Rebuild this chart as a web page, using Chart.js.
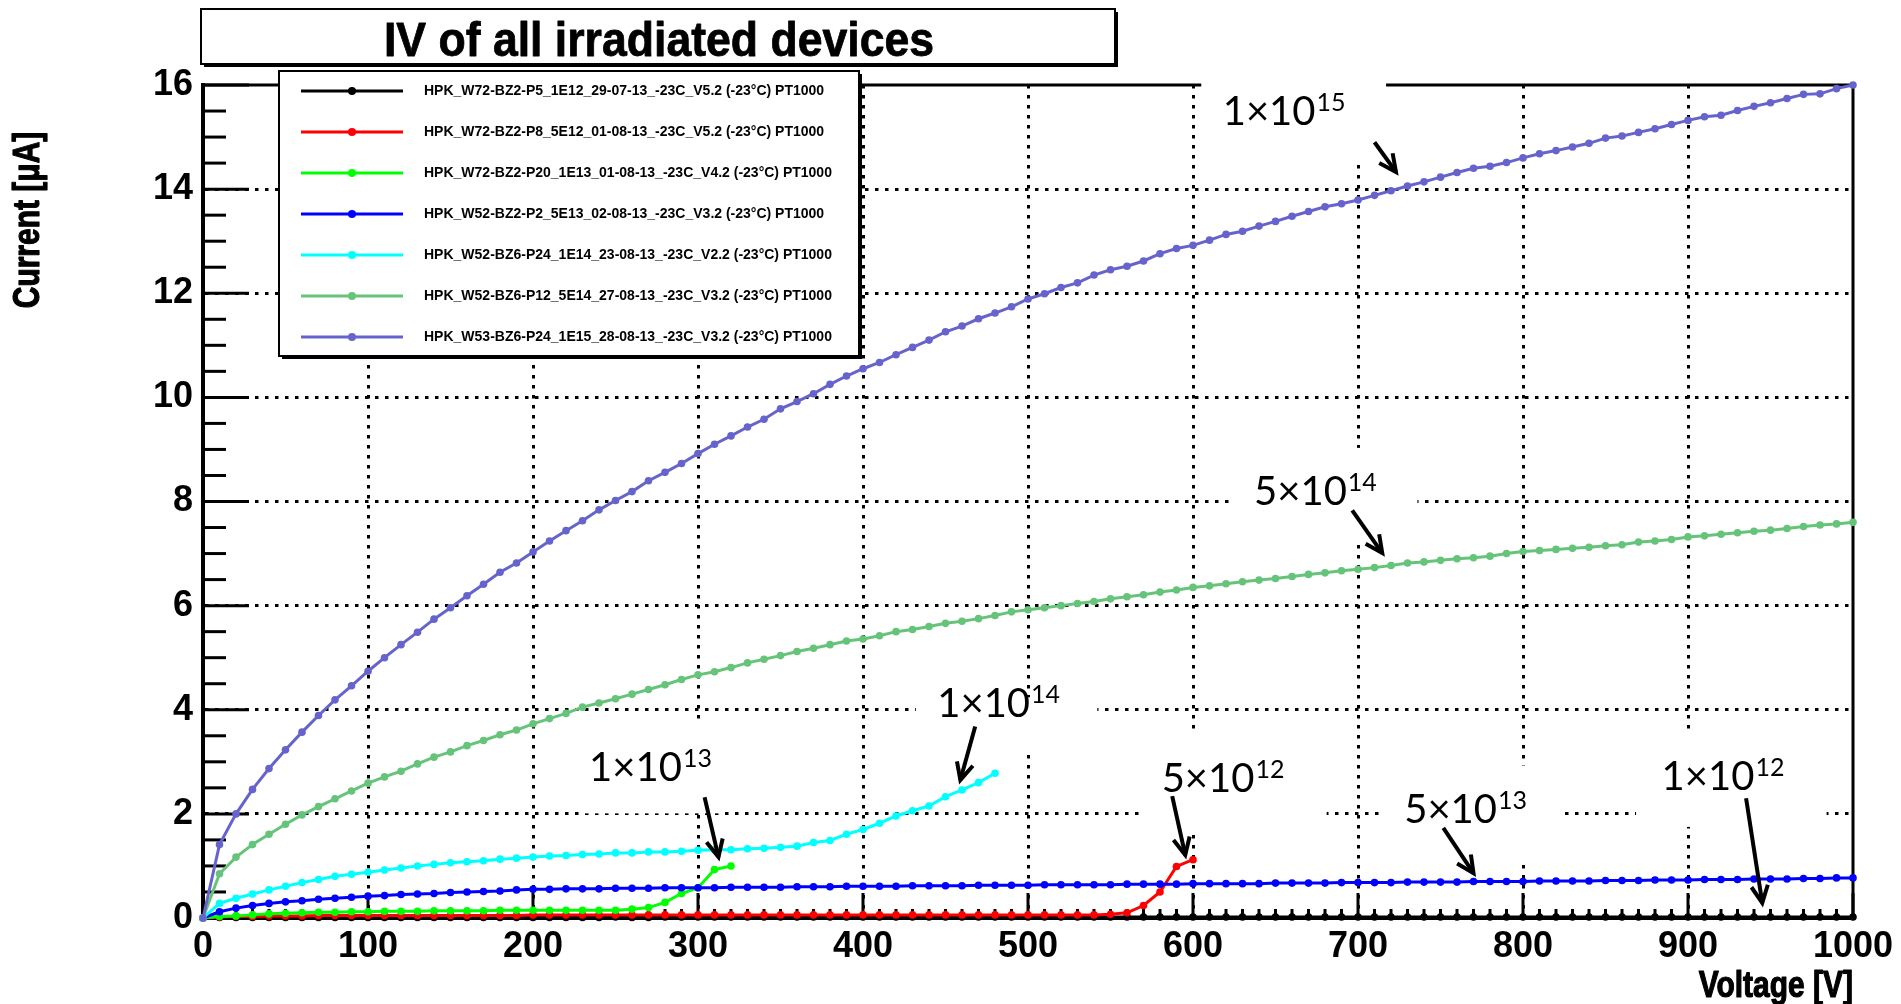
<!DOCTYPE html>
<html>
<head>
<meta charset="utf-8">
<title>IV of all irradiated devices</title>
<script src="https://cdn.jsdelivr.net/npm/chart.js@4.4.1/dist/chart.umd.min.js"></script>
<style>
  html, body { margin: 0; padding: 0; background: #fff; overflow: hidden; }
  canvas { display: block; }
</style>
</head>
<body>
<canvas id="iv" width="1901" height="1004"></canvas>
<script>
// bias voltage steps [V]
const voltages = [
  0, 10, 20, 30, 40, 50, 60, 70, 80, 90,
  100, 110, 120, 130, 140, 150, 160, 170, 180, 190,
  200, 210, 220, 230, 240, 250, 260, 270, 280, 290,
  300, 310, 320, 330, 340, 350, 360, 370, 380, 390,
  400, 410, 420, 430, 440, 450, 460, 470, 480, 490,
  500, 510, 520, 530, 540, 550, 560, 570, 580, 590,
  600, 610, 620, 630, 640, 650, 660, 670, 680, 690,
  700, 710, 720, 730, 740, 750, 760, 770, 780, 790,
  800, 810, 820, 830, 840, 850, 860, 870, 880, 890,
  900, 910, 920, 930, 940, 950, 960, 970, 980, 990,
  1000
];

// leakage current [uA], one array per device
const current1e12 = [
  0, 0.01, 0.01, 0.01, 0.01, 0.01, 0.01, 0.01, 0.01, 0.01,
  0.01, 0.01, 0.01, 0.01, 0.01, 0.01, 0.01, 0.01, 0.01, 0.01,
  0.01, 0.01, 0.01, 0.01, 0.01, 0.02, 0.01, 0.01, 0.02, 0.02,
  0.02, 0.02, 0.02, 0.02, 0.02, 0.02, 0.02, 0.02, 0.02, 0.02,
  0.02, 0.02, 0.02, 0.02, 0.02, 0.02, 0.02, 0.02, 0.02, 0.02,
  0.02, 0.02, 0.02, 0.02, 0.02, 0.02, 0.02, 0.02, 0.02, 0.02,
  0.02, 0.02, 0.02, 0.02, 0.02, 0.02, 0.02, 0.02, 0.02, 0.02,
  0.02, 0.02, 0.02, 0.02, 0.02, 0.02, 0.02, 0.02, 0.02, 0.02,
  0.02, 0.02, 0.02, 0.02, 0.02, 0.02, 0.02, 0.02, 0.02, 0.02,
  0.02, 0.02, 0.02, 0.02, 0.02, 0.02, 0.02, 0.02, 0.02, 0.02,
  0.02
];
const current5e12 = [
  0, 0.02, 0.03, 0.03, 0.04, 0.04, 0.04, 0.05, 0.05, 0.05,
  0.05, 0.05, 0.05, 0.05, 0.05, 0.05, 0.05, 0.05, 0.05, 0.05,
  0.06, 0.06, 0.06, 0.06, 0.06, 0.06, 0.06, 0.06, 0.06, 0.06,
  0.06, 0.06, 0.06, 0.06, 0.06, 0.06, 0.06, 0.06, 0.06, 0.06,
  0.06, 0.06, 0.06, 0.06, 0.06, 0.06, 0.06, 0.06, 0.06, 0.06,
  0.06, 0.06, 0.06, 0.06, 0.06, 0.07, 0.10, 0.24, 0.50, 0.99,
  1.12
];
const current1e13 = [
  0, 0.03, 0.04, 0.06, 0.08, 0.09, 0.10, 0.11, 0.11, 0.12,
  0.12, 0.13, 0.13, 0.13, 0.14, 0.14, 0.14, 0.14, 0.15, 0.15,
  0.15, 0.15, 0.15, 0.15, 0.15, 0.15, 0.17, 0.20, 0.30, 0.47,
  0.58, 0.93, 1.00
];
const current5e13 = [
  0, 0.12, 0.19, 0.24, 0.28, 0.31, 0.33, 0.36, 0.38, 0.40,
  0.42, 0.43, 0.45, 0.46, 0.47, 0.49, 0.50, 0.51, 0.52, 0.54,
  0.55, 0.55, 0.56, 0.56, 0.56, 0.57, 0.57, 0.57, 0.58, 0.58,
  0.58, 0.58, 0.59, 0.59, 0.59, 0.59, 0.60, 0.60, 0.60, 0.61,
  0.61, 0.61, 0.61, 0.62, 0.62, 0.62, 0.62, 0.63, 0.63, 0.63,
  0.63, 0.64, 0.64, 0.64, 0.64, 0.64, 0.65, 0.65, 0.65, 0.65,
  0.66, 0.66, 0.66, 0.66, 0.66, 0.67, 0.67, 0.67, 0.67, 0.68,
  0.68, 0.68, 0.68, 0.69, 0.69, 0.69, 0.69, 0.70, 0.70, 0.70,
  0.70, 0.71, 0.71, 0.71, 0.71, 0.72, 0.72, 0.72, 0.73, 0.73,
  0.73, 0.74, 0.74, 0.74, 0.75, 0.75, 0.75, 0.76, 0.76, 0.77,
  0.77
];
const current1e14 = [
  0, 0.28, 0.38, 0.46, 0.54, 0.61, 0.68, 0.74, 0.80, 0.84,
  0.88, 0.92, 0.96, 1.00, 1.03, 1.06, 1.08, 1.10, 1.13, 1.15,
  1.17, 1.19, 1.20, 1.22, 1.23, 1.25, 1.25, 1.27, 1.27, 1.28,
  1.30, 1.31, 1.31, 1.33, 1.34, 1.36, 1.38, 1.45, 1.49, 1.61,
  1.70, 1.82, 1.96, 2.06, 2.15, 2.33, 2.46, 2.60, 2.78
];
const current5e14 = [
  0, 0.85, 1.17, 1.41, 1.61, 1.80, 1.98, 2.14, 2.29, 2.44,
  2.59, 2.71, 2.82, 2.96, 3.09, 3.19, 3.31, 3.41, 3.52, 3.61,
  3.73, 3.83, 3.93, 4.05, 4.13, 4.21, 4.30, 4.39, 4.48, 4.58,
  4.67, 4.73, 4.81, 4.90, 4.97, 5.04, 5.12, 5.18, 5.25, 5.32,
  5.36, 5.42, 5.50, 5.54, 5.60, 5.66, 5.70, 5.75, 5.81, 5.88,
  5.92, 5.96, 6.00, 6.04, 6.08, 6.13, 6.17, 6.21, 6.26, 6.30,
  6.35, 6.38, 6.42, 6.46, 6.49, 6.52, 6.56, 6.60, 6.63, 6.67,
  6.70, 6.73, 6.77, 6.82, 6.84, 6.87, 6.90, 6.92, 6.95, 7.00,
  7.04, 7.06, 7.08, 7.10, 7.12, 7.15, 7.17, 7.22, 7.24, 7.27,
  7.32, 7.34, 7.37, 7.40, 7.43, 7.45, 7.48, 7.52, 7.55, 7.57,
  7.60
];
const current1e15 = [
  0, 1.41, 2.00, 2.47, 2.87, 3.23, 3.57, 3.89, 4.19, 4.46,
  4.74, 5.00, 5.25, 5.49, 5.74, 5.96, 6.19, 6.41, 6.64, 6.82,
  7.03, 7.24, 7.44, 7.63, 7.84, 8.02, 8.19, 8.40, 8.56, 8.73,
  8.92, 9.10, 9.26, 9.43, 9.58, 9.78, 9.92, 10.07, 10.25, 10.41,
  10.55, 10.67, 10.82, 10.96, 11.10, 11.26, 11.37, 11.51, 11.62, 11.74,
  11.89, 11.99, 12.11, 12.20, 12.35, 12.45, 12.52, 12.62, 12.76, 12.86,
  12.92, 13.02, 13.13, 13.19, 13.29, 13.38, 13.48, 13.57, 13.66, 13.72,
  13.79, 13.88, 13.97, 14.06, 14.14, 14.23, 14.32, 14.40, 14.44, 14.51,
  14.60, 14.68, 14.74, 14.81, 14.88, 14.98, 15.02, 15.09, 15.16, 15.24,
  15.32, 15.39, 15.42, 15.51, 15.59, 15.66, 15.74, 15.82, 15.83, 15.93,
  16.00
];

const deviceNames = [
  'HPK_W72-BZ2-P5_1E12_29-07-13_-23C_V5.2 (-23°C) PT1000',
  'HPK_W72-BZ2-P8_5E12_01-08-13_-23C_V5.2 (-23°C) PT1000',
  'HPK_W72-BZ2-P20_1E13_01-08-13_-23C_V4.2 (-23°C) PT1000',
  'HPK_W52-BZ2-P2_5E13_02-08-13_-23C_V3.2 (-23°C) PT1000',
  'HPK_W52-BZ6-P24_1E14_23-08-13_-23C_V2.2 (-23°C) PT1000',
  'HPK_W52-BZ6-P12_5E14_27-08-13_-23C_V3.2 (-23°C) PT1000',
  'HPK_W53-BZ6-P24_1E15_28-08-13_-23C_V3.2 (-23°C) PT1000'
];
const deviceColors = ['#000000', '#ff0000', '#00ff00', '#0000ff', '#00ffff', '#66c47a', '#6664cc'];
const deviceCurrents = [current1e12, current5e12, current1e13, current5e13, current1e14, current5e14, current1e15];

// fluence notes: text anchor, white box and arrow, all in axis units (V, uA)
const notes = [
  { base: '1×10', exp: '15', at: [618, 15.23], box: [605, 16.3, 717, 14.56], arrow: [710, 14.90, 723, 14.33] },
  { base: '5×10', exp: '14', at: [637, 7.93], box: [624, 9.03, 736, 7.26], arrow: [696.5, 7.83, 714.7, 7.01] },
  { base: '1×10', exp: '14', at: [445, 3.86], box: [432, 4.24, 542, 3.19], arrow: [468, 3.68, 459, 2.65] },
  { base: '1×10', exp: '13', at: [234, 2.63], box: [229, 3.74, 314, 2.01], arrow: [304, 2.32, 312.4, 1.17] },
  { base: '5×10', exp: '12', at: [581, 2.42], box: [569, 3.55, 681, 1.69], arrow: [587.4, 2.34, 595.3, 1.21] },
  { base: '5×10', exp: '13', at: [728, 1.82], box: [715, 2.93, 825, 1.07], arrow: [751.7, 1.73, 770, 0.86] },
  { base: '1×10', exp: '12', at: [884, 2.45], box: [868.5, 3.55, 984, 1.75], arrow: [935.2, 2.30, 945, 0.29] }
];

const rootFont = 'Liberation Sans, Arial, sans-serif';
const noteFont = 'Lato, sans-serif';

function line(ctx, x1, y1, x2, y2) {
  ctx.beginPath();
  ctx.moveTo(x1, y1);
  ctx.lineTo(x2, y2);
  ctx.stroke();
}

function arrow(ctx, x1, y1, x2, y2) {
  const ang = Math.atan2(y2 - y1, x2 - x1);
  const head = 19, spread = 0.45;
  line(ctx, x1, y1, x2, y2);
  ctx.beginPath();
  ctx.moveTo(x2 - head * Math.cos(ang - spread), y2 - head * Math.sin(ang - spread));
  ctx.lineTo(x2, y2);
  ctx.lineTo(x2 - head * Math.cos(ang + spread), y2 - head * Math.sin(ang + spread));
  ctx.stroke();
}

// box with a drop shadow on the right and bottom, like a ROOT pave
function pave(ctx, x, y, w, h) {
  ctx.fillStyle = '#000';
  ctx.fillRect(x + 3, y + 3, w, h);
  ctx.fillStyle = '#fff';
  ctx.fillRect(x, y, w, h);
  ctx.strokeStyle = '#000';
  ctx.lineWidth = 2;
  ctx.strokeRect(x, y, w, h);
}

// narrow heavy text: squeezed along the writing direction, strokes thickened
function squeezed(ctx, text, x, y, sx, angle, align, heavy) {
  ctx.save();
  ctx.translate(x, y);
  ctx.rotate(angle);
  ctx.scale(sx, 1);
  ctx.textAlign = align;
  ctx.fillText(text, 0, 0);
  if (heavy) {
    ctx.strokeStyle = ctx.fillStyle;
    ctx.lineWidth = heavy;
    ctx.lineJoin = 'round';
    ctx.strokeText(text, 0, 0);
  }
  ctx.restore();
}

const framePlugin = {
  id: 'frame',
  beforeDatasetsDraw(chart) {
    const { ctx, chartArea: a, scales: { x, y } } = chart;
    ctx.save();
    ctx.strokeStyle = '#000';
    ctx.lineWidth = 3;
    // top and right side of the frame
    ctx.beginPath();
    ctx.moveTo(a.left, a.top);
    ctx.lineTo(a.right, a.top);
    ctx.lineTo(a.right, a.bottom);
    ctx.stroke();

    // y ticks inside the frame: 4 subdivisions per label
    for (let i = 0; i < y.ticks.length; i++) {
      const v0 = y.ticks[i].value;
      line(ctx, a.left, y.getPixelForValue(v0), a.left + 46, y.getPixelForValue(v0));
      if (i === y.ticks.length - 1) break;
      const step = (y.ticks[i + 1].value - v0) / 4;
      for (let k = 1; k < 4; k++) {
        const py = y.getPixelForValue(v0 + k * step);
        line(ctx, a.left, py, a.left + 23, py);
      }
    }
    // x ticks inside the frame: 10 subdivisions per label
    for (let i = 0; i < x.ticks.length; i++) {
      const v0 = x.ticks[i].value;
      line(ctx, x.getPixelForValue(v0), a.bottom, x.getPixelForValue(v0), a.bottom - 25);
      if (i === x.ticks.length - 1) break;
      const step = (x.ticks[i + 1].value - v0) / 10;
      for (let k = 1; k < 10; k++) {
        const px = x.getPixelForValue(v0 + k * step);
        line(ctx, px, a.bottom, px, a.bottom - 9);
      }
    }

    // white text boxes hide the grid under the notes
    ctx.fillStyle = '#fff';
    for (const n of notes) {
      const x0 = x.getPixelForValue(n.box[0]), y0 = y.getPixelForValue(n.box[1]);
      const x1 = x.getPixelForValue(n.box[2]), y1 = y.getPixelForValue(n.box[3]);
      ctx.fillRect(x0, y0, x1 - x0, y1 - y0);
    }
    ctx.restore();
  },
  afterDraw(chart) {
    const { ctx, chartArea: a, scales: { x, y } } = chart;
    ctx.save();

    // fluence notes
    ctx.fillStyle = '#000';
    ctx.strokeStyle = '#000';
    ctx.textBaseline = 'alphabetic';
    ctx.textAlign = 'left';
    for (const n of notes) {
      const tx = x.getPixelForValue(n.at[0]), ty = y.getPixelForValue(n.at[1]);
      ctx.font = '40px ' + noteFont;
      ctx.fillText(n.base, tx, ty);
      const w = ctx.measureText(n.base).width;
      ctx.font = '25px ' + noteFont;
      ctx.fillText(n.exp, tx + w + 1, ty - 14);
      ctx.lineWidth = 4;
      arrow(ctx,
        x.getPixelForValue(n.arrow[0]), y.getPixelForValue(n.arrow[1]),
        x.getPixelForValue(n.arrow[2]), y.getPixelForValue(n.arrow[3]));
    }

    // title pave
    pave(ctx, 201, 9, 914, 55);
    ctx.fillStyle = '#000';
    ctx.font = 'bold 49px ' + rootFont;
    squeezed(ctx, 'IV of all irradiated devices', 659, 56, 0.91, 0, 'center', 0.8);

    // legend pave
    pave(ctx, 279, 71, 580, 285);
    ctx.textBaseline = 'middle';
    ctx.textAlign = 'left';
    ctx.font = 'bold 14px ' + rootFont;
    chart.data.datasets.forEach((ds, i) => {
      const ry = 91 + i * 41;
      ctx.strokeStyle = ds.borderColor;
      ctx.lineWidth = 3;
      line(ctx, 301, ry, 403, ry);
      ctx.fillStyle = ds.borderColor;
      ctx.beginPath();
      ctx.arc(352, ry, 4, 0, Math.PI * 2);
      ctx.fill();
      ctx.fillStyle = '#000';
      ctx.fillText(ds.label, 424, ry);
    });

    // axis titles: x at the right end, y near the top like ROOT does
    ctx.fillStyle = '#000';
    ctx.font = 'bold 37px ' + rootFont;
    ctx.textBaseline = 'alphabetic';
    squeezed(ctx, 'Voltage [V]', a.right, 997, 0.81, 0, 'right', 1.2);
    ctx.textBaseline = 'middle';
    squeezed(ctx, 'Current [μA]', 29, 220, 0.81, -Math.PI / 2, 'center', 1.2);
    ctx.restore();
  }
};

const datasets = deviceCurrents.map((currents, i) => ({
  label: deviceNames[i],
  data: currents.map((c, k) => ({ x: voltages[k], y: c })),
  borderColor: deviceColors[i],
  backgroundColor: deviceColors[i],
  pointBackgroundColor: deviceColors[i],
  pointBorderWidth: 0,
  pointRadius: 3.8,
  borderWidth: 3,
  tension: 0,
  clip: false,
  order: deviceCurrents.length - i
}));

const hideEdges = (lo, hi) => (c) =>
  (c.tick && (c.tick.value === lo || c.tick.value === hi)) ? 'rgba(0,0,0,0)' : '#000';

new Chart(document.getElementById('iv'), {
  type: 'line',
  data: { datasets },
  plugins: [framePlugin],
  options: {
    responsive: false,
    devicePixelRatio: 1,
    animation: false,
    events: [],
    layout: { padding: { top: 85, right: 48, left: 0, bottom: 0 } },
    plugins: {
      legend: { display: false },
      tooltip: { enabled: false },
      title: { display: false }
    },
    scales: {
      x: {
        type: 'linear',
        min: 0,
        max: 1000,
        afterFit: (scale) => { scale.height = 86; },
        ticks: {
          stepSize: 100,
          autoSkip: false,
          maxRotation: 0,
          padding: 7,
          color: '#000',
          callback: (v) => String(v),
          font: { family: rootFont, size: 36, weight: 'bold', lineHeight: 1.2 }
        },
        grid: { color: hideEdges(0, 1000), lineWidth: 3, drawTicks: false },
        border: { display: true, width: 3, color: '#000', dash: [3.5, 6.5] },
        title: { display: false }
      },
      y: {
        type: 'linear',
        min: 0,
        max: 16,
        afterFit: (scale) => { scale.width = 203; },
        ticks: {
          stepSize: 2,
          autoSkip: false,
          padding: 10,
          color: '#000',
          callback: (v) => String(v),
          font: { family: rootFont, size: 36, weight: 'bold' }
        },
        grid: { color: hideEdges(0, 16), lineWidth: 3, drawTicks: false },
        border: { display: true, width: 4, color: '#000', dash: [3.5, 6.5] }
      }
    }
  }
});
</script>
</body>
</html>
